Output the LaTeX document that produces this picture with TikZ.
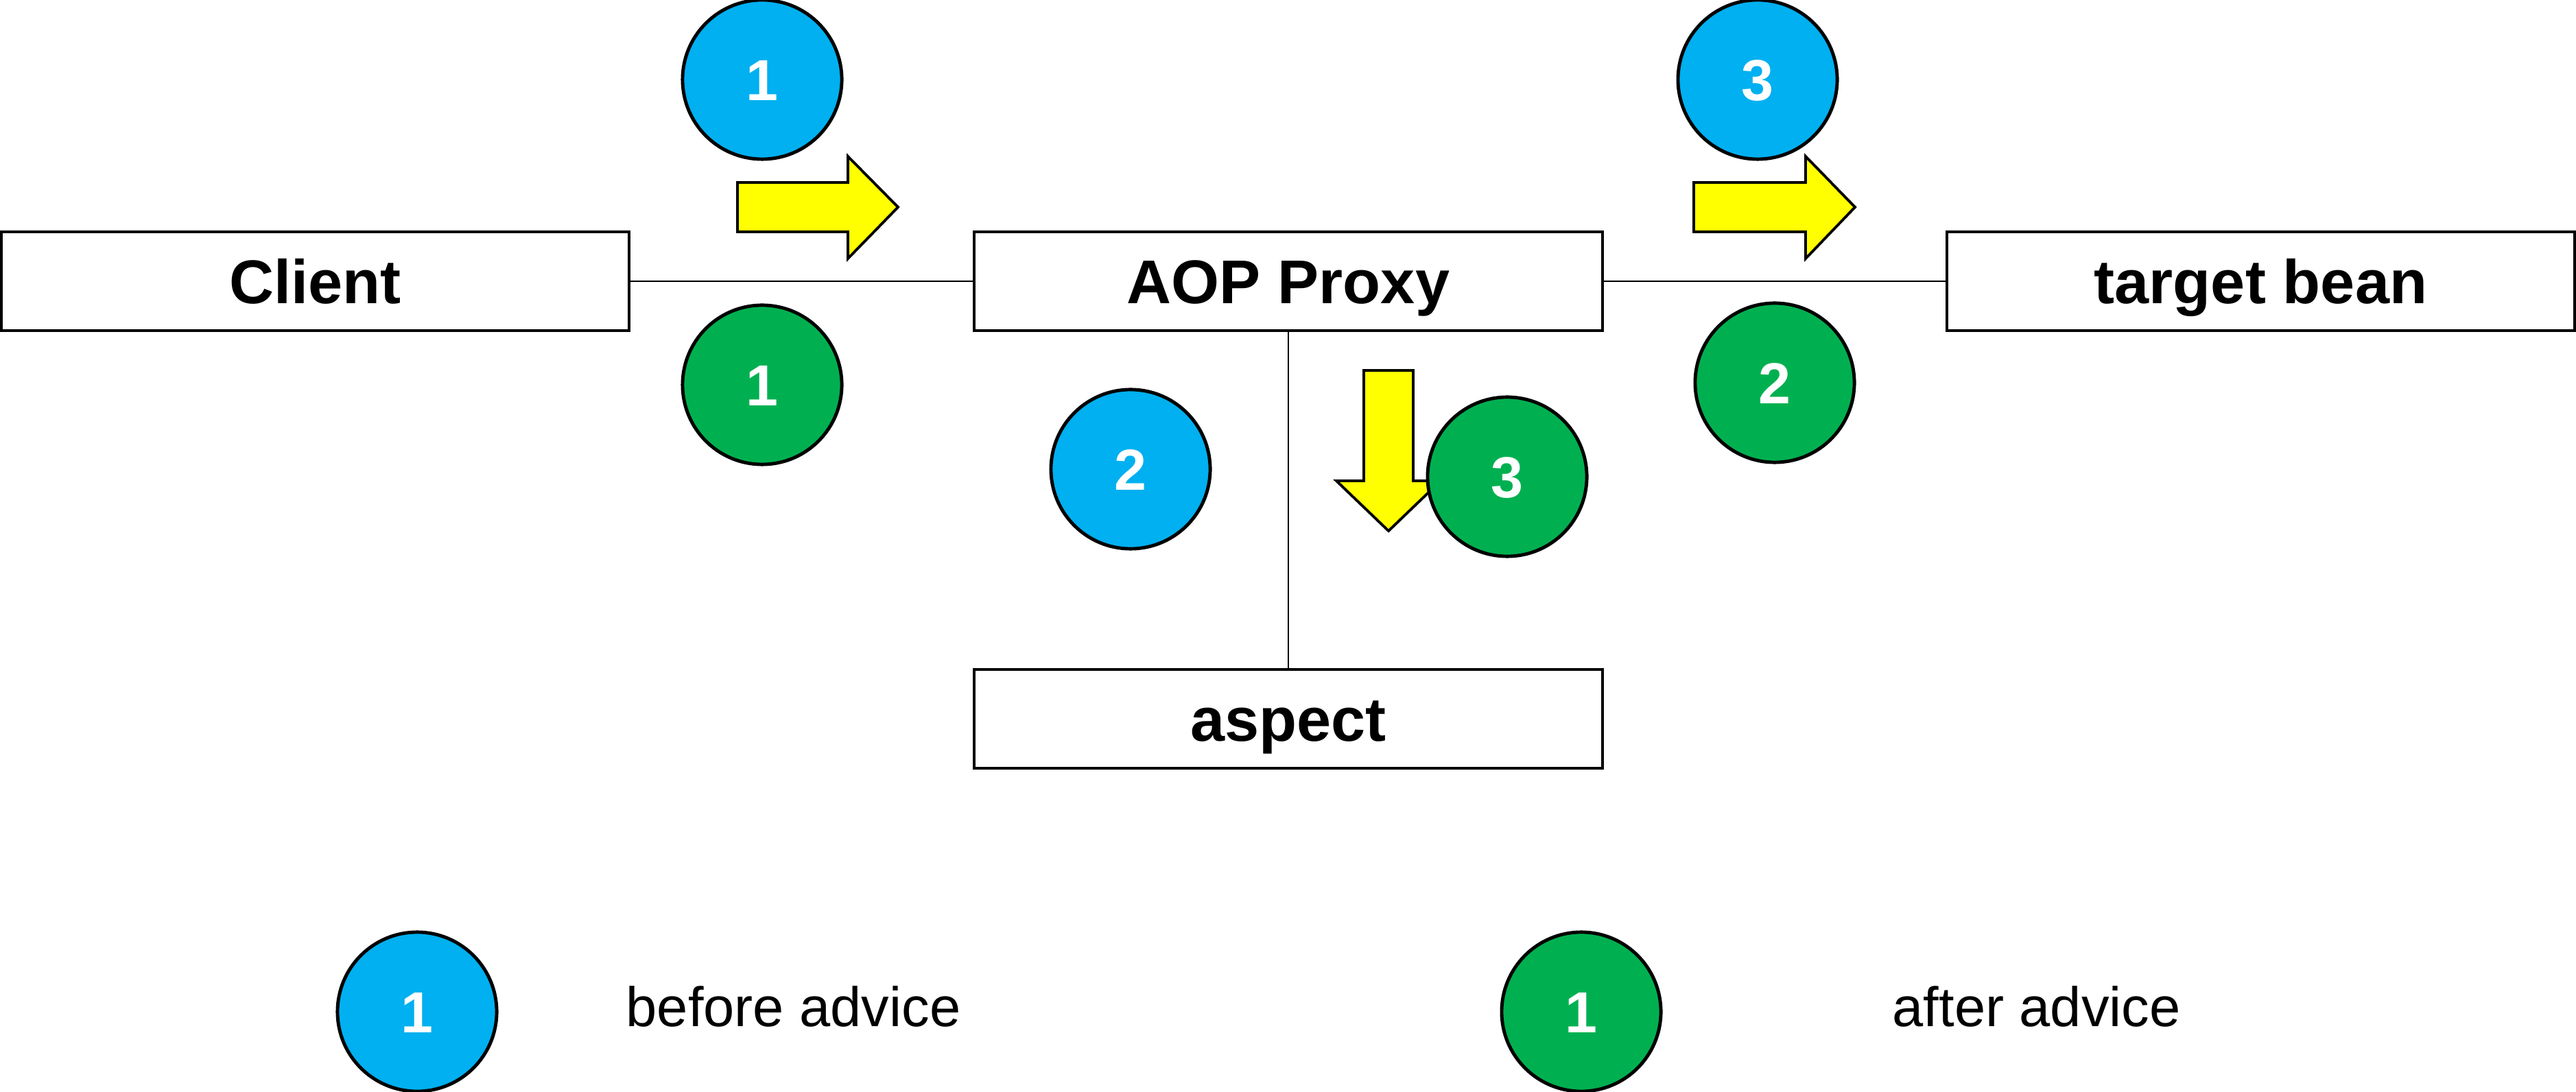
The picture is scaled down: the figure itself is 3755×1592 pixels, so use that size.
\documentclass[tikz,border=0pt]{standalone}
\usepackage{fontspec}
\setmainfont{Liberation Sans}
\definecolor{cblue}{HTML}{00B0F0}
\definecolor{cgreen}{HTML}{00B050}
\definecolor{cyellow}{HTML}{FFFF00}
\begin{document}
\begin{tikzpicture}[x=0.01cm,y=-0.01cm,
  box/.style={draw=black,line width=1.1pt,fill=white,minimum width=9.15cm,minimum height=1.44cm,inner sep=0pt,text height=0.65cm,text depth=0cm,font=\fontsize{25.6}{30}\selectfont\bfseries},
  bubble/.style={circle,draw=black,line width=1.4pt,minimum size=2.32cm,inner sep=0pt,text height=0.61cm,text depth=0cm,text=white,font=\fontsize{24}{28}\selectfont\bfseries},
  bub/.style={bubble,fill=cblue},
  gbub/.style={bubble,fill=cgreen},
  yarrow/.style={draw=black,line width=1.1pt,fill=cyellow,line join=miter},
  conn/.style={draw=black,line width=0.7pt},
  legend/.style={anchor=base west,inner sep=0pt,font=\fontsize{23.1}{28}\selectfont}]
\useasboundingbox (0,0) rectangle (3755,1592);
% boxes
\node[box] (client) at (459.5,410) {Client};
\node[box] (proxy) at (1878,410) {AOP Proxy};
\node[box] (target) at (3295.5,410) {target bean};
\node[box] (aspect) at (1878,1048) {aspect};
% connectors
\draw[conn] (client.east) -- (proxy.west);
\draw[conn] (proxy.east) -- (target.west);
\draw[conn] (proxy.south) -- (aspect.north);
% yellow arrows
\draw[yarrow] (1075,266) -- (1236,266) -- (1236,228) -- (1309,302) -- (1236,377) -- (1236,338) -- (1075,338) -- cycle;
\draw[yarrow] (2469,266) -- (2632,266) -- (2632,228) -- (2704,302) -- (2632,377) -- (2632,338) -- (2469,338) -- cycle;
\draw[yarrow] (1988,540) -- (2060,540) -- (2060,701) -- (2100,701) -- (2024,774) -- (1948,701) -- (1988,701) -- cycle;
% bubbles
\node[bub] (b1) at (1111,116) {1};
\node[gbub] (g1) at (1111,561) {1};
\node[bub] (b2) at (1648,684) {2};
\node[gbub] (g3) at (2197,695) {3};
\node[bub] (b3) at (2562,116) {3};
\node[gbub] (g2) at (2587,558) {2};
% legend
\node[bub] (lb) at (608,1475) {1};
\node[gbub] (lg) at (2305,1475) {1};
\node[legend] (lbt) at (912,1496) {before advice};
\node[legend] (lgt) at (2758,1496) {after advice};
\end{tikzpicture}
\end{document}
